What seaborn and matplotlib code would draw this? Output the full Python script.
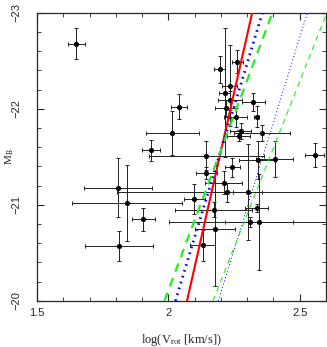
import matplotlib
matplotlib.use("Agg")
import matplotlib.pyplot as plt
from matplotlib.ticker import MultipleLocator
import seaborn as sns
import pandas as pd
import numpy as np

# galaxy sample: log rotation velocity and absolute B magnitude with errors
logv = [1.649, 2.040, 2.015, 1.935, 2.195, 2.263, 2.233, 2.214, 2.235, 2.218,
        2.324, 2.336, 2.256, 2.355, 2.275, 2.267, 2.145, 2.405, 2.340, 2.557,
        2.244, 2.145, 2.210, 1.809, 2.225, 2.302, 2.099, 1.843, 2.172, 2.336,
        1.905, 2.309, 2.344, 2.179, 1.813, 2.130]
logv_err = [0.032, 0.030, 0.100, 0.035, 0.020, 0.020, 0.030, 0.020, 0.045, 0.040,
            0.042, 0.010, 0.045, 0.107, 0.040, 0.045, 0.220, 0.070, 0.070, 0.036,
            0.030, 0.040, 0.070, 0.130, 0.420, 0.055, 0.040, 0.210, 0.145, 0.045,
            0.045, 0.305, 0.130, 0.076, 0.130, 0.048]
mb = [-22.68, -22.02, -21.75, -21.57, -22.41, -22.49, -22.24, -22.17, -22.09, -22.01,
      -22.07, -21.92, -21.91, -21.75, -21.77, -21.72, -21.51, -21.48, -21.47, -21.52,
      -21.39, -21.33, -21.23, -21.18, -21.13, -21.13, -21.06, -21.02, -20.95, -20.97,
      -20.85, -20.82, -20.82, -20.75, -20.57, -20.58]
mb_err = [0.16, 0.13, 0.23, 0.11, 0.14, 0.12, 0.42, 0.67, 0.10, 0.08,
          0.09, 0.11, 0.10, 0.08, 0.08, 0.06, 0.15, 0.19, 0.20, 0.125,
          0.095, 0.06, 0.12, 0.31, 0.10, 0.50, 0.16, 0.40, 0.08, 0.04,
          0.12, 0.05, 0.50, 0.60, 0.16, 0.16]

# Tully-Fisher relations, given by their ends at M_B = -20 and -23
line_mb = [-20, -23]
tf_red = [2.071, 2.319]
tf_blue = [2.027, 2.358]
tf_green = [1.985, 2.396]
tf_blue_thin = [2.190, 2.529]
tf_green_thin = [2.170, 2.603]

df = pd.DataFrame({"logv": logv, "mb": mb})

sns.set_style("ticks")
plt.rcParams["font.family"] = ["Liberation Sans", "DejaVu Sans"]
plt.rcParams["mathtext.fontset"] = "stix"

fig = plt.figure(figsize=(3.27, 3.47), dpi=100)
ax = fig.add_axes([0.113, 0.133, 0.884, 0.83])

ax.errorbar(logv, mb, xerr=logv_err, yerr=mb_err, fmt="none", ecolor="#222222",
            elinewidth=0.7, capsize=1.5, capthick=0.7, zorder=2)
sns.scatterplot(data=df, x="logv", y="mb", color="black", marker="o", s=14,
                edgecolor="black", linewidth=0, ax=ax, zorder=3)

def tf_line(xs, color, lw, ls):
    d = pd.DataFrame({"x": xs, "y": line_mb})
    sns.lineplot(data=d, x="x", y="y", sort=False, estimator=None, color=color,
                 linewidth=lw, linestyle=ls, ax=ax, zorder=4)

tf_line(tf_red, "red", 1.5, "-")
tf_line(tf_blue, "blue", 2.0, (0, (0.6, 1.6)))
tf_line(tf_green, "#22ee22", 1.6, (0, (4, 3)))
tf_line(tf_blue_thin, "blue", 0.7, (0, (1, 2.5)))
tf_line(tf_green_thin, "#22ee22", 0.8, (0, (5, 4)))

ax.set_xlim(1.5, 2.6)
ax.set_ylim(-20, -23)
ax.xaxis.set_major_locator(MultipleLocator(0.5))
ax.xaxis.set_minor_locator(MultipleLocator(0.1))
ax.yaxis.set_major_locator(MultipleLocator(1))
ax.yaxis.set_minor_locator(MultipleLocator(0.2))
ax.xaxis.set_major_formatter(matplotlib.ticker.FuncFormatter(lambda v, p: f"{v:g}"))
ax.yaxis.set_major_formatter(matplotlib.ticker.FuncFormatter(lambda v, p: f"\u2212{abs(v):g}"))
ax.tick_params(which="both", direction="in", top=True, right=True, labelsize=8)
ax.tick_params(axis="x", which="major", pad=5)
ax.tick_params(axis="y", which="major", pad=11)
ax.tick_params(which="major", length=5, width=0.8)
ax.tick_params(which="minor", length=3, width=0.6)
for lab in ax.get_yticklabels():
    lab.set_rotation(90)
    lab.set_va("center")
for s in ax.spines.values():
    s.set_linewidth(0.9)

ax.set_xlabel(r"log(V$_{\rm rot}$ [km/s])", fontsize=9, family="Liberation Serif", labelpad=10)
ax.set_ylabel(r"M$_{\rm B}$", fontsize=8, family="Liberation Serif")
ax.yaxis.set_label_coords(-0.072, 0.5)

fig.savefig("out.png", dpi=100)
